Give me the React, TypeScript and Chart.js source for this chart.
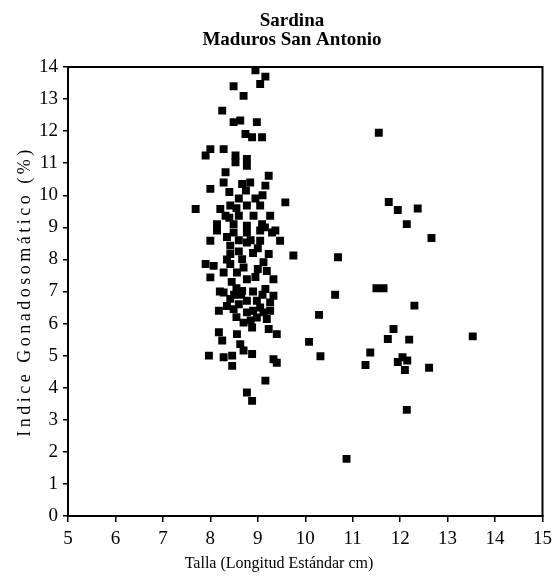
import { useEffect, useRef } from "react";
import { Chart, registerables } from "chart.js";

Chart.register(...registerables);

const titleLines = ["Sardina", "Maduros San Antonio"];
const xTitle = "Talla (Longitud Estándar cm)";
const yTitle = "Indice Gonadosomático (%)";

const xMin = 5;
const xMax = 15;
const yMin = 0;
const yMax = 14;

// Talla (cm)
const talla = [
  8.95, 9.16, 8.7, 8.49, 9.05,
  8.25, 8.49, 8.63, 8.98,
  8.74, 8.88, 9.09,
  7.9, 8.0, 8.28, 8.53, 8.53, 8.77, 8.77,
  8.32, 8.28, 8.67, 8.84, 9.23, 9.16, 8.0,
  9.58, 7.69, 8.21, 8.42, 8.77, 9.05,
  8.32, 8.6, 8.91, 9.26,
  8.14, 8.49, 8.77, 9.09, 9.37,
  8.14, 8.49, 8.77, 9.05, 9.3,
  8.0, 8.42, 8.77, 9.05, 9.47,
  9.75, 8.42, 8.67, 9.23,
  7.9, 8.07, 8.42, 9.12,
  8.0, 8.28, 8.56, 8.77, 9.19, 9.33,
  8.28, 8.67, 9.16, 9.33,
  8.42, 8.77, 8.98, 9.26,
  8.18, 8.49, 8.77, 9.12, 9.26,
  8.7, 8.98, 9.19,
  8.88, 9.23, 9.4, 8.18, 8.25, 8.56,
  8.63, 8.7, 8.88, 7.97, 8.28, 8.46, 8.46,
  9.33, 9.4, 9.16, 8.77, 8.88,
  8.35, 8.6, 8.9, 8.55, 8.9, 8.35, 8.6, 9.05, 8.85, 8.55,
  8.95, 8.6, 8.4, 8.55, 9.15, 8.35, 8.65, 9.0, 8.2,
  8.45, 8.7, 8.95, 9.1, 8.5, 8.85, 8.6, 9.0, 8.4, 8.75, 9.1, 8.9,
  11.55, 11.76, 11.95, 12.37, 12.14, 12.66,
  10.69, 11.5, 11.65, 10.63, 12.3, 10.29,
  11.86, 11.74, 12.19, 13.53, 10.08, 10.32,
  11.37, 11.27, 11.95, 12.05, 12.1, 12.15,
  12.61, 12.14, 10.87,
];

// Indice Gonadosomático (%)
const igs = [
  13.9, 13.7, 13.1, 13.4, 13.47,
  12.64, 12.28, 12.33, 12.28,
  11.91, 11.81, 11.81,
  11.24, 11.44, 11.44, 11.24, 11.03, 11.13, 10.92,
  10.72, 10.4, 10.35, 10.4, 10.61, 10.3, 10.2,
  9.78, 9.57, 9.57, 9.68, 9.68, 9.68,
  9.36, 9.36, 9.36, 9.36,
  9.1, 9.1, 9.05, 9.1, 8.9,
  8.9, 8.84, 8.84, 8.9, 8.84,
  8.58, 8.43, 8.53, 8.58, 8.58,
  8.12, 8.17, 8.01, 8.17,
  7.86, 7.8, 7.86, 7.91,
  7.44, 7.59, 7.59, 7.38, 7.64, 7.38,
  6.97, 7.02, 7.08, 6.87,
  6.77, 6.71, 6.71, 6.66,
  6.4, 6.45, 6.35, 6.35, 6.4,
  6.03, 6.19, 6.14,
  5.88, 5.83, 5.67, 5.73, 5.47, 5.67,
  5.36, 5.16, 5.05, 5.0, 4.95, 5.0, 4.68,
  4.89, 4.78, 4.22, 3.85, 3.59,
  8.0, 8.25, 8.2, 7.1, 7.0, 6.55, 6.6, 6.5, 6.1, 6.2,
  9.9, 9.9, 10.1, 9.6, 9.0, 8.7, 6.9, 7.7, 7.0,
  7.3, 7.75, 7.45, 6.9, 6.9, 8.6, 8.6, 8.35, 9.3, 10.15, 10.0, 6.4,
  11.95, 9.79, 9.54, 9.59, 9.1, 8.67,
  8.07, 7.1, 7.1, 6.9, 6.56, 6.27,
  5.83, 5.52, 5.5, 5.6, 5.43, 4.98,
  5.1, 4.71, 4.8, 4.95, 4.55, 4.85,
  4.62, 3.31, 1.78,
];

const FONT = "'Liberation Serif', 'DejaVu Serif', serif";

const framePlugin = {
  id: "frame",
  afterDraw(chart: any) {
    const { ctx, chartArea } = chart;
    ctx.save();
    ctx.strokeStyle = "#000";
    ctx.lineWidth = 2;
    ctx.strokeRect(
      chartArea.left,
      chartArea.top,
      chartArea.right - chartArea.left,
      chartArea.bottom - chartArea.top
    );
    ctx.restore();
  },
};

const textPlugin = {
  id: "texts",
  afterDraw(chart: any) {
    const { ctx, chartArea } = chart;
    ctx.save();
    ctx.fillStyle = "#000";
    ctx.textAlign = "center";
    ctx.textBaseline = "alphabetic";
    ctx.font = `bold 19px ${FONT}`;
    ctx.fillText(titleLines[0], 292, 26);
    ctx.fillText(titleLines[1], 292, 45);

    ctx.font = `16px ${FONT}`;
    ctx.fillText(xTitle, 279, 568);

    ctx.translate(30, (chartArea.top + chartArea.bottom) / 2);
    ctx.rotate(-Math.PI / 2);
    ctx.font = `18px ${FONT}`;
    (ctx as any).letterSpacing = "3.5px";
    ctx.fillText(yTitle, 0, 0);
    ctx.restore();
  },
};

export default function App() {
  const ref = useRef<HTMLCanvasElement>(null);

  useEffect(() => {
    document.body.style.margin = "0";
    const canvas = ref.current;
    if (!canvas) return;
    const tickFont = { family: FONT, size: 19 };
    const chart = new Chart(canvas, {
      type: "scatter",
      data: {
        datasets: [
          {
            data: talla.map((x, i) => ({ x, y: igs[i] })),
            pointStyle: "rect",
            radius: 5.6,
            backgroundColor: "#000",
            borderColor: "#000",
            borderWidth: 0,
          },
        ],
      },
      options: {
        responsive: false,
        animation: false,
        layout: { padding: { top: 67, right: 15, left: 0, bottom: 0 } },
        plugins: {
          legend: { display: false },
          tooltip: { enabled: false },
          title: { display: false },
        },
        scales: {
          x: {
            type: "linear",
            min: xMin,
            max: xMax,
            ticks: { stepSize: 1, color: "#000", font: tickFont, padding: 6 },
            grid: {
              drawOnChartArea: false,
              drawTicks: true,
              tickLength: 6,
              color: "#000",
              lineWidth: 1.5,
            },
            border: { display: true, color: "#000", width: 2 },
            afterFit: (s: any) => {
              s.height = 62;
            },
          },
          y: {
            type: "linear",
            min: yMin,
            max: yMax,
            ticks: { stepSize: 1, color: "#000", font: tickFont, padding: 5 },
            grid: {
              drawOnChartArea: false,
              drawTicks: true,
              tickLength: 5,
              color: "#000",
              lineWidth: 1.5,
            },
            border: { display: true, color: "#000", width: 2 },
            afterFit: (s: any) => {
              s.width = 68;
            },
          },
        },
      },
      plugins: [framePlugin, textPlugin],
    });
    return () => chart.destroy();
  }, []);

  return (
    <canvas
      ref={ref}
      width={558}
      height={578}
      style={{ display: "block", width: "558px", height: "578px" }}
    />
  );
}
